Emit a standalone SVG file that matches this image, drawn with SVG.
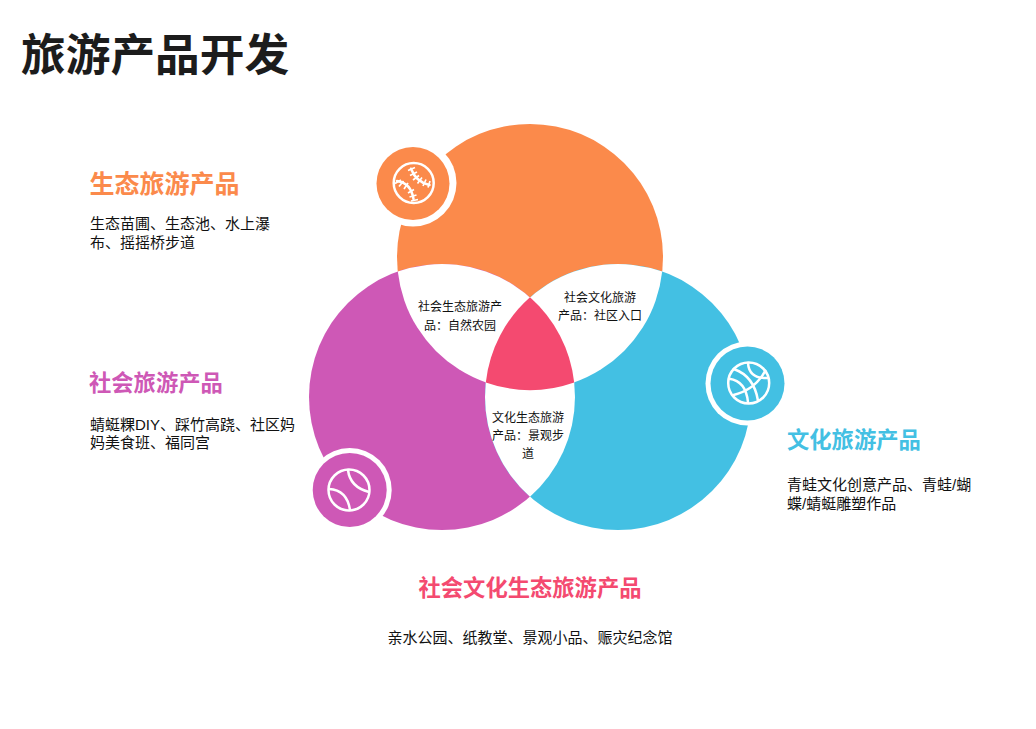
<svg xmlns="http://www.w3.org/2000/svg" width="1036" height="729" viewBox="0 0 1036 729">
<style>
text{font-family:"Liberation Sans","Noto Sans CJK SC",sans-serif;fill:#111}
.title{font-size:44.7px;font-weight:700;fill:#1c1c1c}
.h{font-size:22.3px;font-weight:700}
.b{font-size:15px}
.s{font-size:12px;text-anchor:middle}
.ic{fill:none;stroke:#fff;stroke-width:2.5;stroke-linecap:round}
.st{fill:none;stroke:#fff;stroke-width:1.7}
</style>
<rect width="1036" height="729" fill="#fff"/>
<text class="title" x="21" y="71">旅游产品开发</text>
<g id="venn">
<circle cx="530" cy="257" r="133" fill="#FB8A4B"/>
<circle cx="442" cy="397" r="133" fill="#CE58B6"/>
<circle cx="618" cy="397" r="133" fill="#43C0E3"/>
<path fill="#fff" d="M397.8 271.6A133 133 0 0 1 574.2 382.4A133 133 0 0 1 397.8 271.6Z"/>
<path fill="#fff" d="M662.2 271.6A133 133 0 0 0 485.8 382.4A133 133 0 0 0 662.2 271.6Z"/>
<path fill="#fff" d="M530 297.3A133 133 0 0 1 530 496.7A133 133 0 0 1 530 297.3Z"/>
<path fill="#F44A70" d="M530 297.3A133 133 0 0 1 574.2 382.4A133 133 0 0 1 485.8 382.4A133 133 0 0 1 530 297.3Z"/>
</g>
<g id="badge-eco">
<circle cx="413" cy="183" r="43.500" fill="#fff"/>
<circle cx="413" cy="183.500" r="36.500" fill="#FB8A4B"/>
<circle class="ic" cx="413.700" cy="183" r="20"/>
<path class="ic" d="M411 168.700Q416 182 429.500 185M397 181Q411 183 413.500 199"/>
<path class="st" d="M408 170.500l7-3M410 175.500l7-3.500M413 180l6-4.500M417.500 183.500l4.500-6M423 186l3-6.500M428 187.500l2-6.500M395 183.500l6-3.500M399 186.500l4.500-5.500M404 189l4-6M408 193l6-3.500M409.500 197l7-2M411 201l7-1.500"/>
</g>
<g id="badge-culture">
<circle cx="747.500" cy="383.500" r="42" fill="#fff"/>
<circle cx="747.500" cy="383.500" r="37" fill="#43C0E3"/>
<circle class="ic" cx="748.700" cy="383" r="20.500"/>
<path class="ic" d="M733.700 369Q754 376 758 400.700M729.300 378.700Q746 381 748 402.300M732.700 395.300Q755 390 765.300 370.700M748 363Q749 379 768 378"/>
</g>
<g id="badge-social">
<circle cx="349.700" cy="490" r="42" fill="#fff"/>
<circle cx="349.700" cy="490" r="37" fill="#CE58B6"/>
<circle class="ic" cx="349" cy="490" r="20.500"/>
<path class="ic" d="M348 470Q350 487 369 492M329 489Q347 490 350 510"/>
</g>
<g id="inner-labels">
<text class="s" x="460" y="311">社会生态旅游产</text>
<text class="s" x="460" y="330">品：自然农园</text>
<text class="s" x="600" y="302">社会文化旅游</text>
<text class="s" x="600" y="320">产品：社区入口</text>
<text class="s" x="528" y="422">文化生态旅游</text>
<text class="s" x="528" y="440">产品：景观步</text>
<text class="s" x="528" y="458">道</text>
</g>
<g id="label-eco">
<text class="h" x="89.500" y="193" style="fill:#FB8A4B;font-size:25px">生态旅游产品</text>
<text class="b" x="90" y="229">生态苗圃、生态池、水上瀑</text>
<text class="b" x="90" y="248">布、摇摇桥步道</text>
</g>
<g id="label-social">
<text class="h" x="89" y="391" style="fill:#CE58B6">社会旅游产品</text>
<text class="b" x="90" y="430">蜻蜓粿DIY、踩竹高跷、社区妈</text>
<text class="b" x="90" y="448">妈美食班、福同宫</text>
</g>
<g id="label-culture">
<text class="h" x="787" y="448" style="fill:#43C0E3">文化旅游产品</text>
<text class="b" x="787" y="490">青蛙文化创意产品、青蛙/蝴</text>
<text class="b" x="787" y="509">蝶/蜻蜓雕塑作品</text>
</g>
<g id="label-all">
<text class="h" x="530" y="596" text-anchor="middle" style="fill:#F44A70">社会文化生态旅游产品</text>
<text class="b" x="530" y="643" text-anchor="middle">亲水公园、纸教堂、景观小品、赈灾纪念馆</text>
</g>
<g id="connectors"></g>
</svg>
